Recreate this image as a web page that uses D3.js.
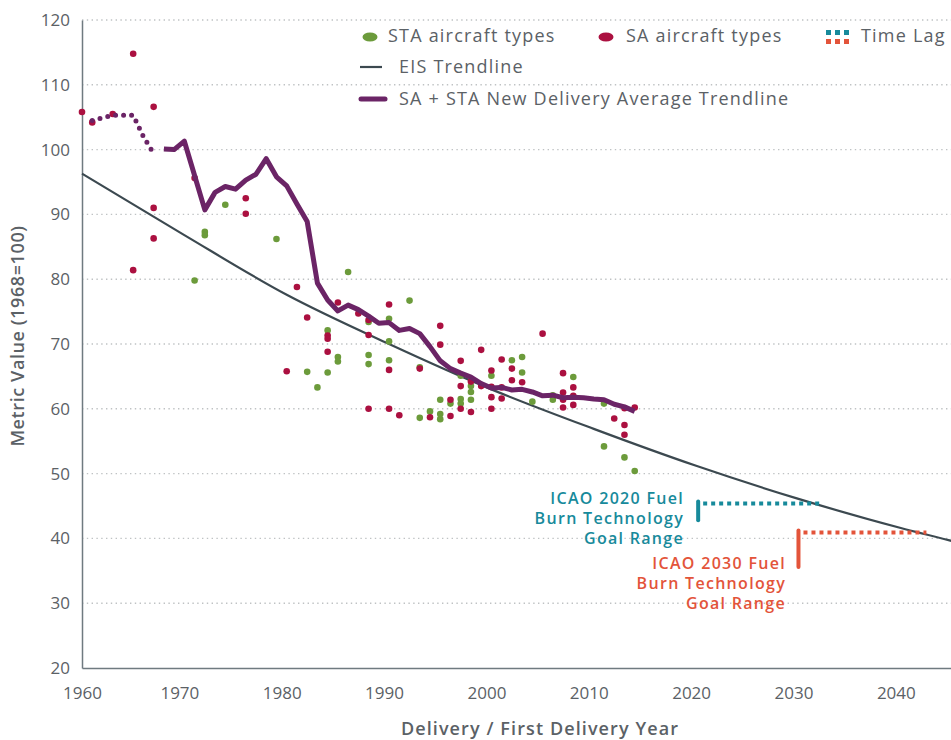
<!DOCTYPE html>
<html>
<head>
<meta charset="utf-8">
<script src="https://cdn.jsdelivr.net/npm/d3@7"></script>
<style>
  body { margin: 0; background: #fff; }
  svg { font-family: "Open Sans", sans-serif; }
</style>
</head>
<body>
<svg id="chart" width="951" height="740"></svg>
<script>
// STA aircraft types [year, metric]
const staPoints = [
  [1971, 79.8], [1972, 87.3], [1972, 86.8], [1974, 91.5], [1979, 86.2],
  [1982, 65.7], [1983, 63.3], [1984, 72.1], [1984, 65.6], [1985, 68.0],
  [1985, 67.3], [1986, 81.1], [1988, 73.4], [1988, 68.3], [1988, 66.9],
  [1990, 73.9], [1990, 70.4], [1990, 67.5], [1992, 76.7], [1993, 66.4],
  [1993, 58.6], [1994, 59.6], [1995, 61.4], [1995, 59.2], [1995, 58.4],
  [1996, 60.8], [1997, 65.1], [1997, 61.5], [1997, 60.8], [1998, 63.5],
  [1998, 62.6], [1998, 61.4], [2000, 65.1], [2002, 67.5], [2003, 68.0],
  [2003, 65.6], [2004, 61.1], [2006, 62.1], [2006, 61.4], [2008, 64.9],
  [2011, 60.8], [2011, 54.2], [2013, 52.5], [2014, 50.4]
]

// SA aircraft types [year, metric]
const saPoints = [
  [1960, 105.8], [1961, 104.2], [1963, 105.5], [1965, 114.8], [1965, 81.4],
  [1967, 106.6], [1967, 91.0], [1967, 86.3], [1971, 95.6], [1976, 92.5],
  [1976, 90.1], [1980, 65.8], [1981, 78.8], [1982, 74.1], [1984, 71.3],
  [1984, 70.8], [1984, 68.8], [1985, 76.4], [1987, 74.7], [1988, 73.7],
  [1988, 71.4], [1988, 60.0], [1990, 76.1], [1990, 66.0], [1990, 60.0],
  [1991, 59.0], [1993, 66.2], [1994, 58.7], [1995, 72.8], [1995, 69.9],
  [1996, 61.4], [1996, 58.9], [1997, 67.4], [1997, 63.5], [1997, 60.0],
  [1998, 64.2], [1998, 59.5], [1999, 69.1], [1999, 63.5], [2000, 65.9],
  [2000, 63.4], [2000, 61.8], [2000, 60.0], [2001, 67.6], [2001, 63.3],
  [2001, 61.6], [2002, 66.2], [2002, 64.4], [2003, 64.1], [2005, 71.6],
  [2007, 65.5], [2007, 62.5], [2007, 61.4], [2007, 60.2], [2008, 63.3],
  [2008, 62.0], [2008, 60.6], [2012, 58.5], [2013, 60.1], [2013, 57.5],
  [2013, 56.0], [2014, 60.2]
]

// new delivery average, early (dotted) part and main part
const avgEarly = [
  [1961, 104.5], [1962, 104.9], [1963, 105.3], [1964, 105.3], [1965, 105.3],
  [1966, 102.0], [1967, 99.4]
]
const avgMain = [
  [1968, 100.1], [1969, 100.0], [1970, 101.3], [1971, 96.0], [1972, 90.7],
  [1973, 93.4], [1974, 94.3], [1975, 93.9], [1976, 95.3], [1977, 96.2],
  [1978, 98.6], [1979, 95.8], [1980, 94.4], [1981, 91.6], [1982, 88.9],
  [1983, 79.4], [1984, 76.8], [1985, 75.1], [1986, 76.0], [1987, 75.3],
  [1988, 74.3], [1989, 73.2], [1990, 73.3], [1991, 72.1], [1992, 72.4],
  [1993, 71.6], [1994, 69.6], [1995, 67.4], [1996, 66.2], [1997, 65.5],
  [1998, 64.9], [1999, 63.9], [2000, 63.2], [2001, 63.3], [2002, 62.9],
  [2003, 63.0], [2004, 62.6], [2005, 62.0], [2006, 62.1], [2007, 61.7],
  [2008, 61.8], [2009, 61.7], [2010, 61.5], [2011, 61.4], [2012, 60.7],
  [2013, 60.3], [2014, 59.6]
]

// EIS trendline
const eisTrend = [
  [1960, 96.3], [1970, 86.8], [1980, 77.6], [1990, 70.0], [2000, 63.0],
  [2010, 56.9], [2020, 51.2], [2030, 46.1], [2040, 41.6], [2045, 39.6]
]

// time lag markers: [startYear, endYear, level, bottom of the tick]
const lag2020 = [2020.2, 2032.4, 45.4, 42.8]
const lag2030 = [2030.0, 2042.5, 40.9, 35.6]

const xTicks = [1960, 1970, 1980, 1990, 2000, 2010, 2020, 2030, 2040]
const yTicks = [20, 30, 40, 50, 60, 70, 80, 90, 100, 110, 120]

const colors = {
    sta: "#6c9b3b",
    sa: "#ab1040",
    avg: "#6b2466",
    eis: "#3c4950",
    teal: "#178a9b",
    orange: "#e3543a",
    grid: "#bfc2c4",
    axis: "#6f7a80",
    text: "#5b6166"
}

const svg = d3.select("#chart")

const x = d3.scaleLinear().domain([1960, 2045]).range([82, 952])
const y = d3.scaleLinear().domain([20, 120]).range([668, 20])

// dotted gridlines
svg.append("g")
    .selectAll("line")
    .data(yTicks.slice(1))
    .join("line")
    .attr("x1", x(1960))
    .attr("x2", 951)
    .attr("y1", d => y(d))
    .attr("y2", d => y(d))
    .attr("stroke", colors.grid)
    .attr("stroke-width", 1.4)
    .attr("stroke-dasharray", "1.4,3.4")

// axes
const yAxis = svg.append("g")
    .attr("transform", `translate(${x(1960)},0)`)
    .call(d3.axisLeft(y).tickValues(yTicks).tickSize(0).tickPadding(12))
yAxis.select(".domain").attr("stroke", colors.axis).attr("stroke-width", 1.5)
yAxis.selectAll("text")
    .attr("fill", colors.text)
    .style("font-size", "17px")
    .style("font-family", "Open Sans")

const xAxis = svg.append("g")
    .attr("transform", `translate(0,${y(20)})`)
    .call(d3.axisBottom(x).tickValues(xTicks).tickFormat(d3.format("d")).tickSize(0).tickPadding(19))
xAxis.select(".domain").attr("stroke", colors.axis).attr("stroke-width", 1.5)
xAxis.selectAll("text")
    .attr("fill", colors.text)
    .attr("dx", d => d === 1960 ? 0 : -5)
    .style("font-size", "17px")
    .style("font-family", "Open Sans")

// axis titles
svg.append("text")
    .attr("x", 540)
    .attr("y", 735)
    .attr("text-anchor", "middle")
    .attr("fill", colors.text)
    .style("font-size", "18px")
    .style("font-weight", 600)
    .style("letter-spacing", "1.1px")
    .text("Delivery / First Delivery Year")

svg.append("text")
    .attr("transform", "translate(24,336) rotate(-90)")
    .attr("text-anchor", "middle")
    .attr("fill", colors.text)
    .style("font-size", "18px")
    .style("font-weight", 600)
    .style("letter-spacing", "0.6px")
    .text("Metric Value (1968=100)")

// EIS trendline
const line = d3.line().x(d => x(d[0])).y(d => y(d[1]))

svg.append("path")
    .datum(eisTrend)
    .attr("fill", "none")
    .attr("stroke", colors.eis)
    .attr("stroke-width", 2.2)
    .attr("d", line.curve(d3.curveMonotoneX))

// scatter points
svg.append("g")
    .selectAll("circle")
    .data(staPoints)
    .join("circle")
    .attr("cx", d => x(d[0]))
    .attr("cy", d => y(d[1]))
    .attr("r", 3.3)
    .attr("fill", colors.sta)

svg.append("g")
    .selectAll("circle")
    .data(saPoints)
    .join("circle")
    .attr("cx", d => x(d[0]))
    .attr("cy", d => y(d[1]))
    .attr("r", 3.3)
    .attr("fill", colors.sa)

// average trendline
const avgLine = d3.line().x(d => x(d[0])).y(d => y(d[1]))

svg.append("path")
    .datum(avgEarly)
    .attr("fill", "none")
    .attr("stroke", colors.avg)
    .attr("stroke-width", 5)
    .attr("stroke-linecap", "round")
    .attr("stroke-dasharray", "0,8")
    .attr("d", avgLine)

svg.append("path")
    .datum(avgMain)
    .attr("fill", "none")
    .attr("stroke", colors.avg)
    .attr("stroke-width", 5)
    .attr("stroke-linejoin", "round")
    .attr("d", avgLine)

// time lag markers
const drawLag = (lag, color) => {
    const [start, end, level, bottom] = lag
    svg.append("line")
        .attr("x1", x(start)).attr("x2", x(start))
        .attr("y1", y(level) - 2).attr("y2", y(bottom))
        .attr("stroke", color)
        .attr("stroke-width", 4)
        .attr("stroke-linecap", "round")
    svg.append("line")
        .attr("x1", x(start) + 5).attr("x2", x(end))
        .attr("y1", y(level)).attr("y2", y(level))
        .attr("stroke", color)
        .attr("stroke-width", 4)
        .attr("stroke-dasharray", "4,4")
}
drawLag(lag2020, colors.teal)
drawLag(lag2030, colors.orange)

// annotations
const note = (lines, xPos, yPos, color) => {
    svg.append("text")
        .attr("x", xPos)
        .attr("y", yPos)
        .attr("text-anchor", "end")
        .attr("fill", color)
        .style("font-size", "16px")
        .style("font-weight", 600)
        .style("letter-spacing", "1.3px")
        .selectAll("tspan")
        .data(lines)
        .join("tspan")
        .attr("x", xPos)
        .attr("dy", (d, i) => i === 0 ? 0 : 20)
        .text(d => d)
}
note(["ICAO 2020 Fuel", "Burn Technology", "Goal Range"], 684, 504, colors.teal)
note(["ICAO 2030 Fuel", "Burn Technology", "Goal Range"], 786, 569, colors.orange)

// legend
const legend = svg.append("g")
    .style("font-size", "18px")
    .style("letter-spacing", "1.2px")
    .attr("fill", colors.text)

legend.append("ellipse").attr("cx", 370).attr("cy", 37).attr("rx", 7.5).attr("ry", 4.5).attr("fill", colors.sta)
legend.append("text").attr("x", 388).attr("y", 42).text("STA aircraft types")

legend.append("ellipse").attr("cx", 606).attr("cy", 37).attr("rx", 7.5).attr("ry", 4.5).attr("fill", colors.sa)
legend.append("text").attr("x", 626).attr("y", 42).text("SA aircraft types")

for (let i = 0; i < 3; i++) {
    legend.append("rect").attr("x", 826 + i * 9).attr("y", 30).attr("width", 5).attr("height", 5).attr("fill", colors.teal)
    legend.append("rect").attr("x", 826 + i * 9).attr("y", 39).attr("width", 5).attr("height", 5).attr("fill", colors.orange)
}
legend.append("text").attr("x", 861).attr("y", 42).text("Time Lag")

legend.append("line").attr("x1", 360).attr("x2", 382).attr("y1", 67).attr("y2", 67)
    .attr("stroke", colors.eis).attr("stroke-width", 2.2)
legend.append("text").attr("x", 399).attr("y", 73).text("EIS Trendline")

legend.append("line").attr("x1", 361).attr("x2", 385).attr("y1", 99).attr("y2", 99)
    .attr("stroke", colors.avg).attr("stroke-width", 5).attr("stroke-linecap", "round")
legend.append("text").attr("x", 399).attr("y", 105).text("SA + STA New Delivery Average Trendline")
</script>
</body>
</html>
